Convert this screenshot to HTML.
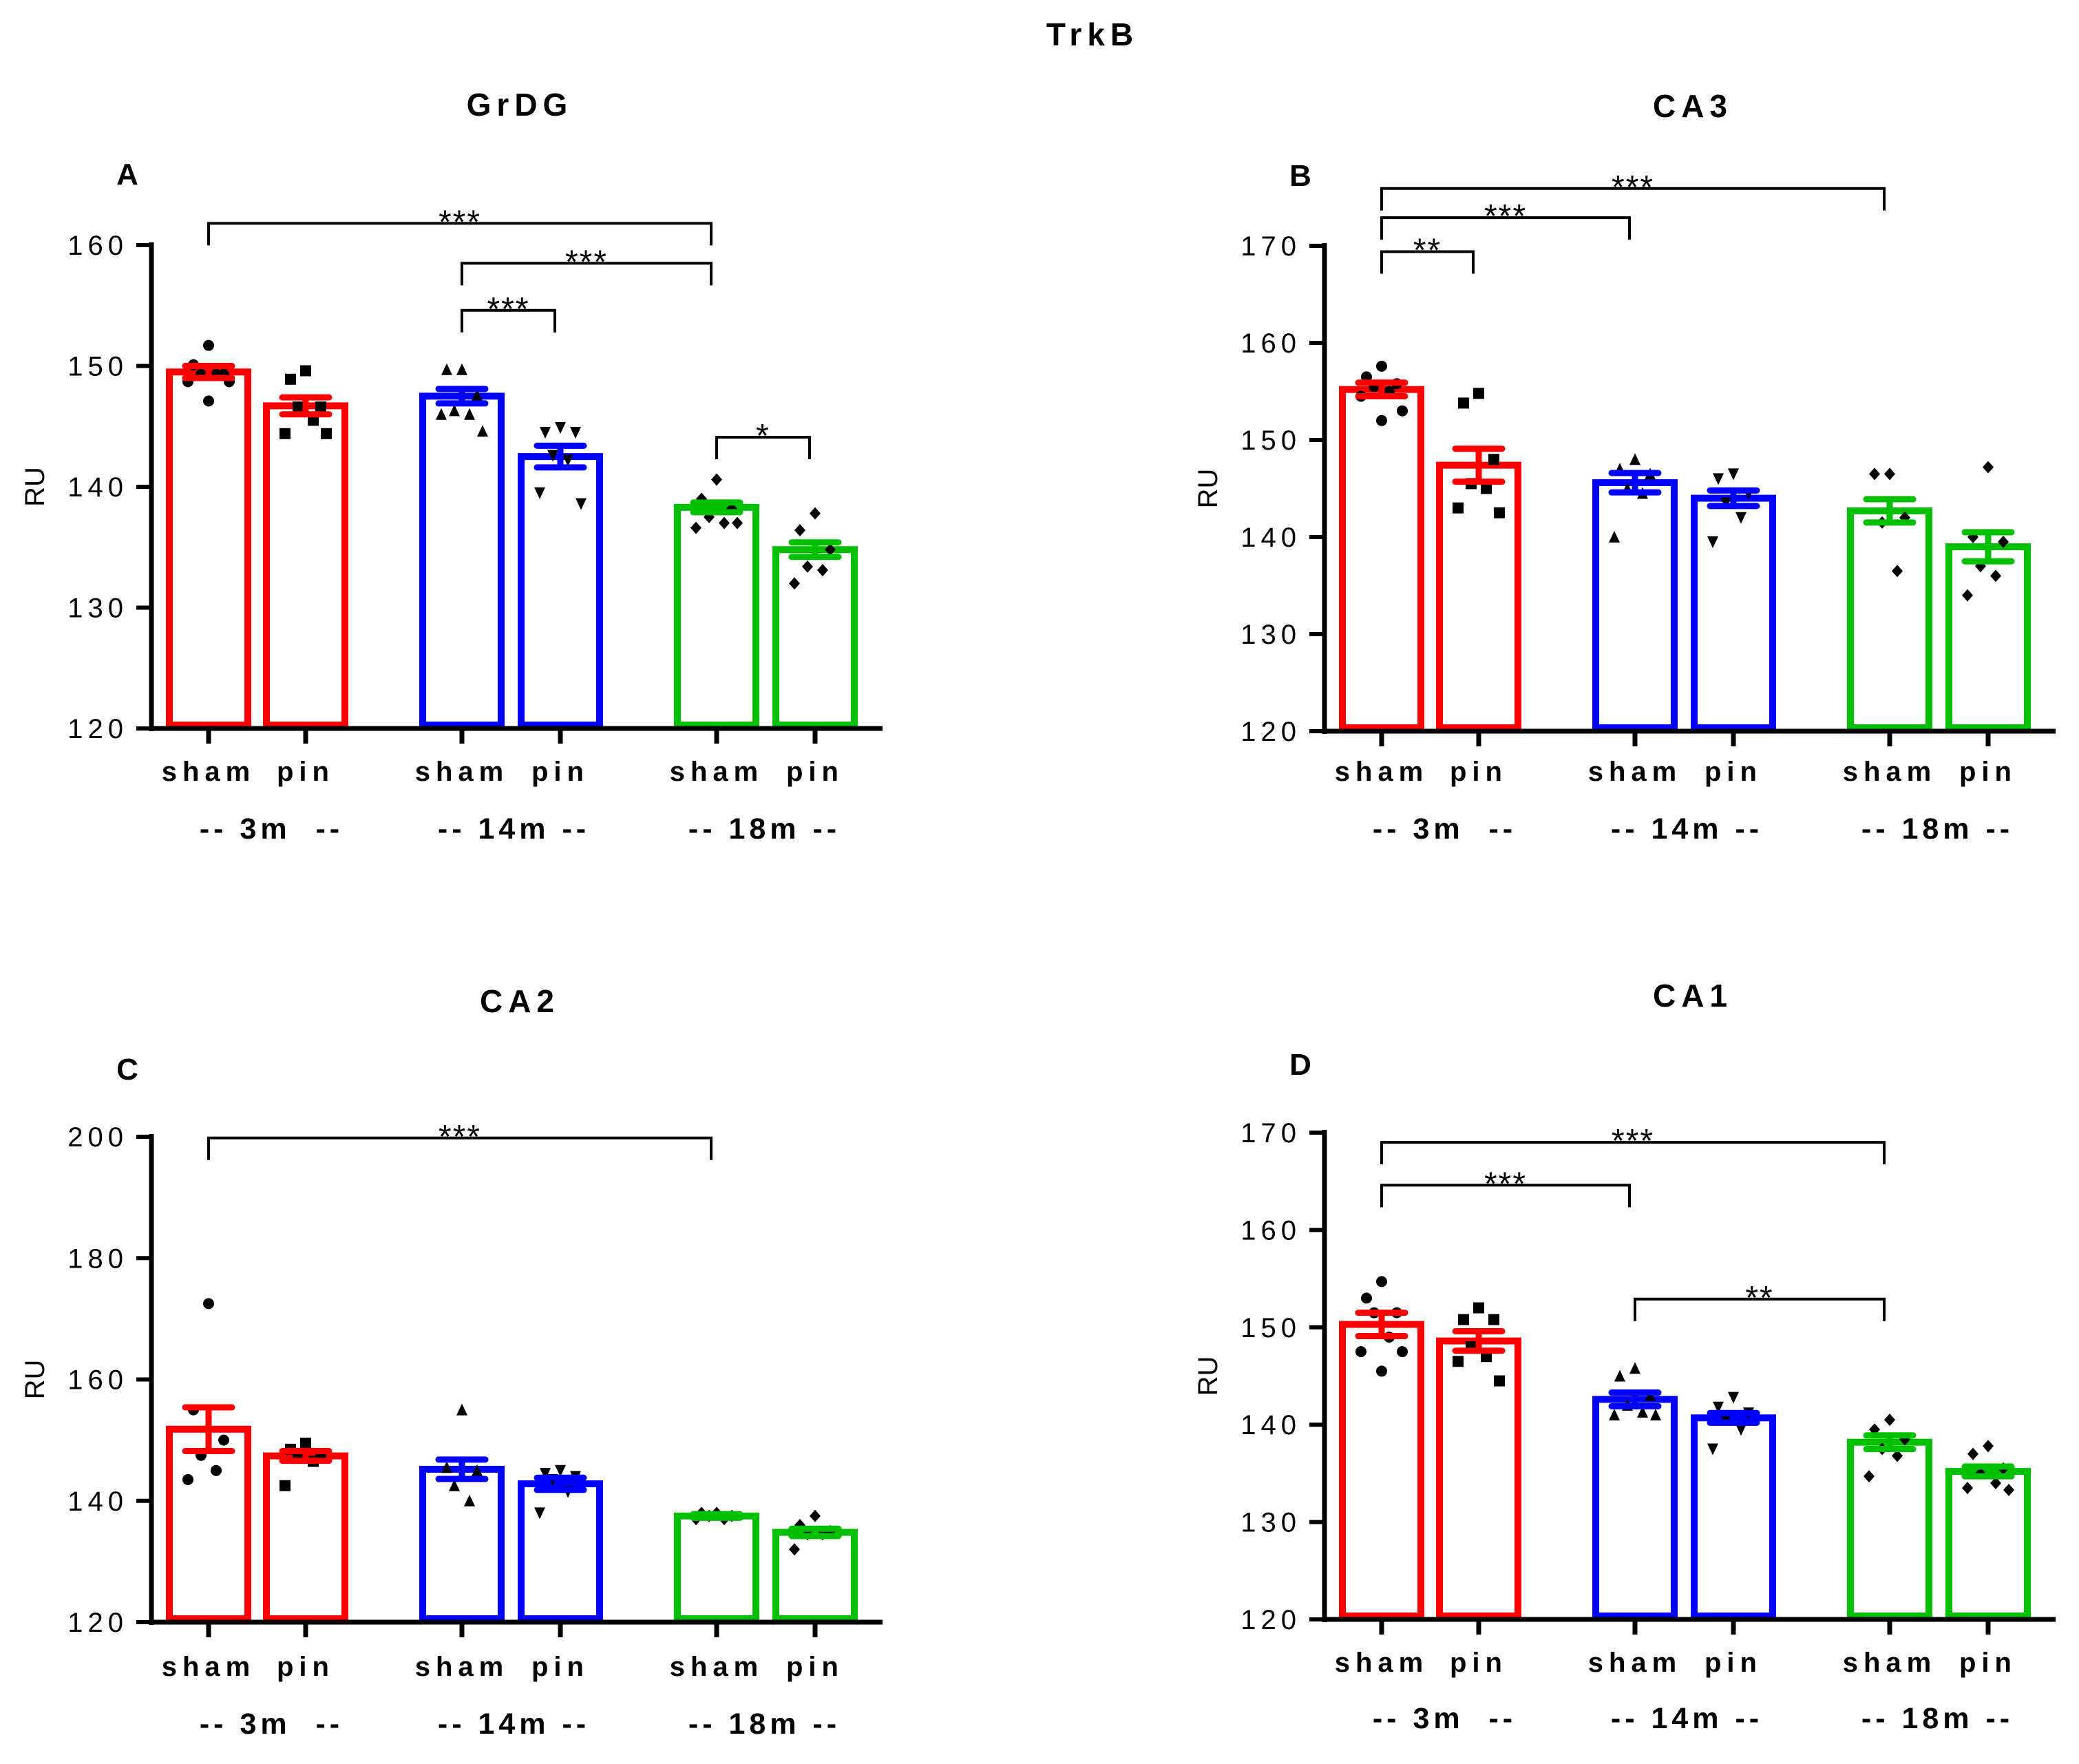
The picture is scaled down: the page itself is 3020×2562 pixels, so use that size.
<!DOCTYPE html>
<html><head><meta charset="utf-8">
<style>
html,body{margin:0;padding:0;background:#fff;}
svg{display:block;font-family:"Liberation Sans",Arial,sans-serif;}
</style></head>
<body>
<svg id="fig" width="3020" height="2562" viewBox="0 0 3020 2562" xmlns="http://www.w3.org/2000/svg">
<rect width="3020" height="2562" fill="#fff"/>
<text x="1587" y="66" font-size="46" font-weight="bold" text-anchor="middle" letter-spacing="8">TrkB</text>
</svg>
<script>
// ---- data ----
const categories = ["sham","pin","sham","pin","sham","pin"];
const groupLabels = ["-- 3m  --","-- 14m --","-- 18m --"];
const colors = ["#ff0000","#ff0000","#0000ff","#0000ff","#00c000","#00c000"];
const markers = ["circle","square","triangle","tridown","diamond","diamond"];

const meansA = [149.5,146.7,147.5,142.5,138.3,134.8];
const semA = [0.5,0.7,0.6,0.9,0.4,0.6];
const ptsA = [[151.7,150.1,149.3,149.3,149.3,148.7,148.7,147.1],[149.6,148.9,146.6,146.6,145.5,144.4,144.4],[149.7,149.7,147.6,146.3,146.0,146.0,144.6],[144.9,144.5,144.5,142.6,142.2,139.5,138.6],[140.6,139.0,138.2,137.5,137.0,136.6,137.0],[137.8,136.4,134.8,133.4,133.1,132.0]];
const ticksA = [120,130,140,150,160];

const meansB = [155.2,147.4,145.6,144.0,142.7,139.0];
const semB = [0.7,1.7,1.0,0.8,1.2,1.5];
const ptsB = [[157.6,156.5,155.8,155.5,155,154.5,153,152],[154.8,153.8,148,145.5,145,143,142.5],[148,147,146.5,145,144.5,140],[146.5,146,144.5,143.5,142,139.5],[146.5,146.5,142,141.5,136.5],[147.2,140,139.5,137,136,134]];
const ticksB = [120,130,140,150,160,170];

const meansC = [151.8,147.4,145.2,142.8,137.5,134.8];
const semC = [3.6,0.8,1.6,1.0,0.3,0.6];
const ptsC = [[172.5,155,150,147.5,145,143.5],[149.5,148.5,147.5,147,146.5,142.5],[155,145.5,145,142.5,140],[145,144.5,144,143.5,141.5,138],[138,138,137.5,137.5,137,137],[137.5,136,135,134.5,134.5,132]];
const ticksC = [120,140,160,180,200];

const meansD = [150.3,148.6,142.6,140.7,138.2,135.2];
const semD = [1.2,1.0,0.7,0.5,0.7,0.5];
const ptsD = [[154.7,153,151.5,151.5,149,147.5,147.5,145.5],[152,150.8,150.8,148,147,146.5,144.5],[145.8,145,143,142,141.3,141,141],[142.8,141.8,141.2,140.5,139.5,137.5],[140.5,139.5,138.5,137.5,136.8,134.7],[137.8,137,135.5,135,134,133.5,133.3]];
const ticksD = [120,130,140,150,160,170];

// brackets: [fromBar, toBar, yValue, label]
const bracketsA = [[0,4,161.8,"***"],[2,4,158.5,"***"],[2,3,154.6,"***"],[4,5,144.1,"*"]];
const bracketsB = [[0,4,175.9,"***"],[0,2,172.9,"***"],[0,1,169.4,"**"]];
const bracketsC = [[0,4,199.8,"***"]];
const bracketsD = [[0,4,169.0,"***"],[0,2,164.6,"***"],[2,4,152.9,"**"]];

const NS="http://www.w3.org/2000/svg";
const svg=document.getElementById('fig');
function mk(tag,attrs,parent){const e=document.createElementNS(NS,tag);for(const k in attrs)e.setAttribute(k,attrs[k]);(parent||svg).appendChild(e);return e;}

const barOffsets=[83,224,451,594,821,964];
const groupShift=[29,12,6];

function panel(cfg){
  const g=mk('g',{});
  
  
  const ax=cfg.ax, y0=cfg.y0, yTop=cfg.yTop;
  const vmin=cfg.ticks[0], vmax=cfg.ticks[cfg.ticks.length-1];
  const Y=v=>y0-(v-vmin)/(vmax-vmin)*(y0-yTop);
  const X=i=>ax+barOffsets[i];
  const t=mk('text',{x:ax+535,y:cfg.titleY,'font-size':46,'font-weight':'bold','text-anchor':'middle','letter-spacing':8},g);
  t.textContent=cfg.title;
  
  
  const l=mk('text',{x:ax-35,y:cfg.letterY,'font-size':44,'font-weight':'bold','text-anchor':'middle'},g);
  l.textContent=cfg.letter;
  
  
  const ru=mk('text',{x:0,y:0,'font-size':40,'text-anchor':'middle',transform:`translate(${ax-156},${(y0+yTop)/2}) rotate(-90)`},g);
  ru.textContent="RU";
  
  
  cfg.means.forEach((m,i)=>{
    const b=mk('rect',{x:X(i)-57,y:Y(m),width:114,height:Y(vmin)-Y(m)-5,fill:'#fff',stroke:colors[i],'stroke-width':10},g);
    
    
  });
  cfg.pts.forEach((arr,i)=>{
    arr.forEach((v,j)=>{
      const off=[0,-22,22,-11,11,-30,30,0][j%8];
      const cx=X(i)+off, cy=Y(v);
      let p;
      const s=8;
      if(markers[i]==='circle') p=mk('circle',{cx:cx,cy:cy,r:s},g);
      else if(markers[i]==='square') p=mk('rect',{x:cx-s,y:cy-s,width:2*s,height:2*s},g);
      else if(markers[i]==='triangle') p=mk('polygon',{points:`${cx},${cy-s-1} ${cx-s},${cy+s} ${cx+s},${cy+s}`},g);
      else if(markers[i]==='tridown') p=mk('polygon',{points:`${cx},${cy+s+1} ${cx-s},${cy-s} ${cx+s},${cy-s}`},g);
      else p=mk('polygon',{points:`${cx},${cy-s-1} ${cx+s},${cy} ${cx},${cy+s+1} ${cx-s},${cy}`},g);
      p.setAttribute('fill','#000');
      
      
    });
  });
  cfg.means.forEach((m,i)=>{
    const e=mk('path',{d:`M${X(i)-34},${Y(m+cfg.sem[i])}H${X(i)+34}M${X(i)},${Y(m+cfg.sem[i])}V${Y(m-cfg.sem[i])}M${X(i)-34},${Y(m-cfg.sem[i])}H${X(i)+34}`,stroke:colors[i],'stroke-width':9,'stroke-linecap':'round',fill:'none'},g);
    
    
  });
  const ya=mk('line',{x1:ax,y1:yTop-4,x2:ax,y2:y0+4,stroke:'#000','stroke-width':7},g);
  
  
  const xa=mk('line',{x1:ax,y1:y0,x2:ax+1062,y2:y0,stroke:'#000','stroke-width':7},g);
  
  
  cfg.ticks.forEach(v=>{
    mk('line',{x1:ax-22,y1:Y(v),x2:ax,y2:Y(v),stroke:'#000','stroke-width':6},g);
    const tl=mk('text',{x:ax-34,y:Y(v)+14,'font-size':40,'text-anchor':'end','letter-spacing':7},g);
    tl.textContent=String(v);
    
    
  });
  categories.forEach((c,i)=>{
    mk('line',{x1:X(i),y1:y0,x2:X(i),y2:y0+22,stroke:'#000','stroke-width':7},g);
    const ct=mk('text',{x:X(i),y:cfg.catY,'font-size':40,'font-weight':'bold','text-anchor':'middle','letter-spacing':8},g);
    ct.textContent=c;
    
    
  });
  groupLabels.forEach((gl,k)=>{
    const gt=mk('text',{x:(X(2*k)+X(2*k+1))/2-8+groupShift[k],y:cfg.grpY,'font-size':43,'font-weight':'bold','text-anchor':'middle','letter-spacing':6,style:'white-space:pre'},g);
    gt.textContent=gl;
    
    
  });
  cfg.br.forEach(b=>{
    const y=Y(b[2]), x1=X(b[0]), x2=X(b[1])-8;
    const p=mk('path',{d:`M${x1},${y+32}V${y}H${x2}V${y+32}`,stroke:'#000','stroke-width':4,fill:'none'},g);
    
    
    const st=mk('text',{x:(x1+x2)/2,y:y+14,'font-size':48,'text-anchor':'middle','letter-spacing':2},g);
    st.textContent=b[3];
    
    
  });
}

panel({name:'panel-a-grdg',title:'GrDG',letter:'A',ax:220,y0:1058,yTop:356,titleY:168,letterY:268,catY:1134,grpY:1218,means:meansA,sem:semA,pts:ptsA,ticks:ticksA,br:bracketsA});
panel({name:'panel-b-ca3',title:'CA3',letter:'B',ax:1924,y0:1062,yTop:357,titleY:170,letterY:270,catY:1134,grpY:1218,means:meansB,sem:semB,pts:ptsB,ticks:ticksB,br:bracketsB});
panel({name:'panel-c-ca2',title:'CA2',letter:'C',ax:220,y0:2356,yTop:1651,titleY:1470,letterY:1568,catY:2434,grpY:2518,means:meansC,sem:semC,pts:ptsC,ticks:ticksC,br:bracketsC});
panel({name:'panel-d-ca1',title:'CA1',letter:'D',ax:1924,y0:2352,yTop:1645,titleY:1462,letterY:1561,catY:2428,grpY:2510,means:meansD,sem:semD,pts:ptsD,ticks:ticksD,br:bracketsD});
</script>
</body></html>
